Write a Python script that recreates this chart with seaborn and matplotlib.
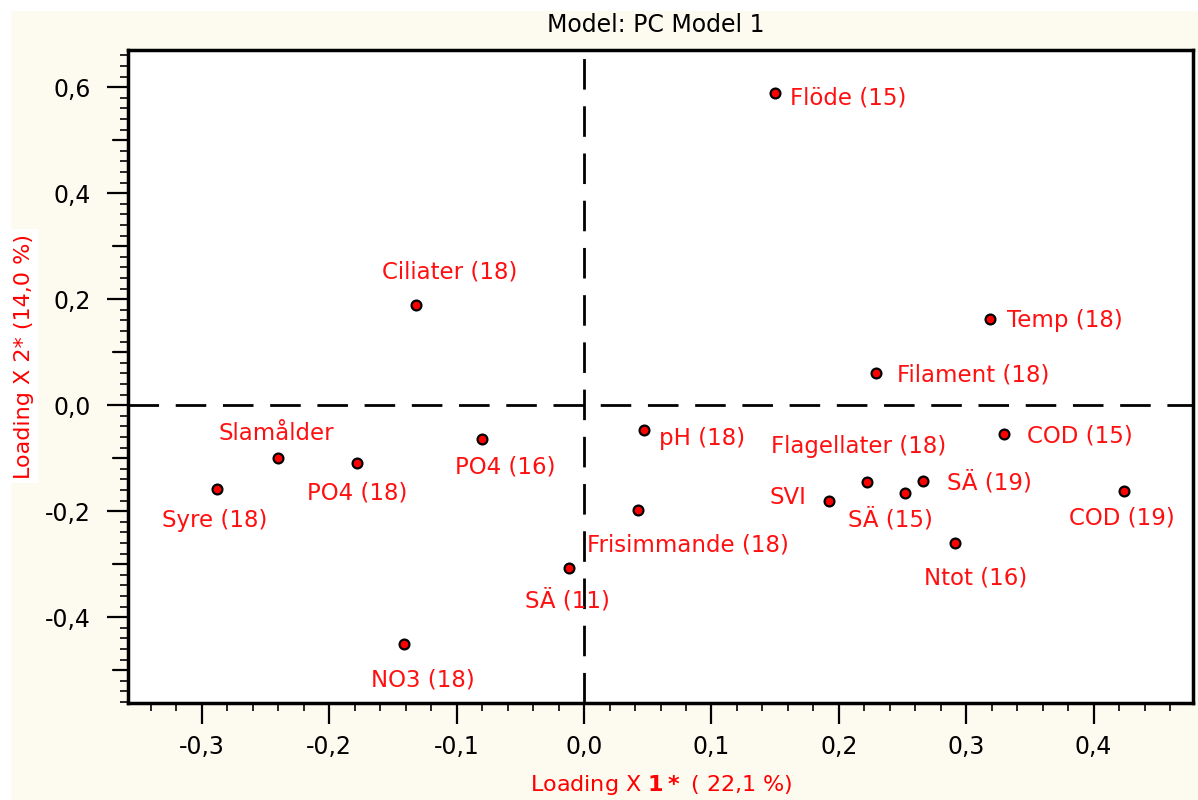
import matplotlib
matplotlib.use("Agg")
import matplotlib.pyplot as plt
from matplotlib.ticker import MultipleLocator, FuncFormatter
import matplotlib.patches as mpatches
import seaborn as sns
import pandas as pd

# ---- data ----
labels = ["Flöde (15)", "Ciliater (18)", "Temp (18)", "Filament (18)", "Slamålder",
          "Syre (18)", "PO4 (18)", "PO4 (16)", "SÄ (11)", "NO3 (18)", "pH (18)",
          "Frisimmande (18)", "SVI", "Flagellater (18)", "SÄ (19)", "SÄ (15)",
          "COD (15)", "COD (19)", "Ntot (16)"]
load_x1 = [0.150, -0.132, 0.319, 0.229, -0.240,
           -0.288, -0.178, -0.080, -0.012, -0.141, 0.047,
           0.042, 0.192, 0.222, 0.266, 0.252,
           0.330, 0.424, 0.291]
load_x2 = [0.589, 0.189, 0.162, 0.060, -0.100,
           -0.158, -0.109, -0.064, -0.308, -0.451, -0.047,
           -0.198, -0.181, -0.145, -0.143, -0.166,
           -0.055, -0.162, -0.260]
x_ticks = [-0.3, -0.2, -0.1, 0.0, 0.1, 0.2, 0.3, 0.4]
y_ticks = [-0.4, -0.2, 0.0, 0.2, 0.4, 0.6]
y_mid_ticks = [-0.5, -0.3, -0.1, 0.1, 0.3, 0.5]
title = "Model: PC Model 1"
x_label = r"Loading X $\mathbf{1*}$ ( 22,1 %)"
y_label = "Loading X 2* (14,0 %)"

# label placement (pixel offsets from point, alignment)
label_offsets = [(15, -5, "left"), (34, 33, "center"), (17, -1, "left"), (21, -2, "left"),
                 (-2, 25, "center"), (-2, -32, "center"), (0, -30, "center"), (23, -28, "center"),
                 (-1, -32, "center"), (18, -36, "center"), (15, -8, "left"),
                 (50, -35, "center"), (-22, 4, "right"), (-8, 35, "center"), (24, -2, "left"),
                 (-15, -27, "center"), (23, -2, "left"), (-2, -27, "center"), (21, -35, "center")]

df = pd.DataFrame({"label": labels, "x1": load_x1, "x2": load_x2})

sns.set_style("ticks")
plt.rcParams["font.family"] = ["DejaVu Sans"]
plt.rcParams["mathtext.fontset"] = "dejavusans"

cream = "#FDFBF0"
fig = plt.figure(figsize=(11.98, 8.0), dpi=100, facecolor=cream)
# white strips at top/left edge
fig.patches.append(mpatches.Rectangle((0, 1 - 10 / 800), 1, 10 / 800, transform=fig.transFigure,
                                      color="white", zorder=0))
fig.patches.append(mpatches.Rectangle((0, 0), 10 / 1198, 1, transform=fig.transFigure,
                                      color="white", zorder=0))

ax = fig.add_axes([128 / 1198, 1 - 703 / 800, (1193 - 128) / 1198, (703 - 50) / 800])
ax.set_facecolor("white")

ax.axhline(0, color="black", lw=2, dashes=(11, 6), zorder=1)
ax.axvline(0, color="black", lw=2, dashes=(11, 6), zorder=1)

sns.scatterplot(data=df, x="x1", y="x2", ax=ax, color="#FF0000", edgecolor="black",
                linewidth=1.6, s=50, zorder=3, legend=False)

for lab, xv, yv, (dx, dy, ha) in zip(labels, load_x1, load_x2, label_offsets):
    ax.annotate(lab, (xv, yv), xytext=(dx, dy), textcoords="offset pixels",
                ha=ha, va="center", color="#FF1010", fontsize=16.5, zorder=4)

ax.set_xlim(-0.358, 0.478)
ax.set_ylim(-0.562, 0.670)
ax.set_xticks(x_ticks)
ax.set_yticks(y_ticks)
ax.xaxis.set_minor_locator(MultipleLocator(0.02))
ax.yaxis.set_minor_locator(MultipleLocator(0.02))
fmt = FuncFormatter(lambda v, p: f"{v:.1f}".replace(".", ",").replace("-0,0", "0,0"))
ax.xaxis.set_major_formatter(fmt)
ax.yaxis.set_major_formatter(fmt)
ax.tick_params(which="major", length=15, width=1.6, labelsize=17, colors="black",
               direction="out")
ax.tick_params(axis="y", which="major", pad=12)
ax.tick_params(axis="x", which="major", pad=8)
ax.tick_params(which="minor", length=6, width=1.4, direction="out")

# medium-length ticks at the odd tenths of the y axis
ytr = ax.get_yaxis_transform()
for yv in y_mid_ticks:
    ax.plot([-15 / 1065, 0], [yv, yv], transform=ytr, color="black", lw=1.6,
            clip_on=False, zorder=5)

for sp in ax.spines.values():
    sp.set_visible(True)
    sp.set_color("black")
    sp.set_linewidth(2.5)

ax.set_xlabel("")
ax.set_ylabel("")

fig.text(656 / 1198, 1 - 25 / 800, title, ha="center", va="center", fontsize=17, color="black")
fig.text(661 / 1198, 1 - 785 / 800, x_label, ha="center", va="center", fontsize=16, color="#FF0000")
fig.text(24 / 1198, 1 - 356 / 800, y_label, ha="center", va="center", rotation=90,
         fontsize=16, color="#FF0000",
         bbox=dict(facecolor="white", edgecolor="none", pad=3))

fig.savefig("out.png", dpi=100, facecolor=cream)
